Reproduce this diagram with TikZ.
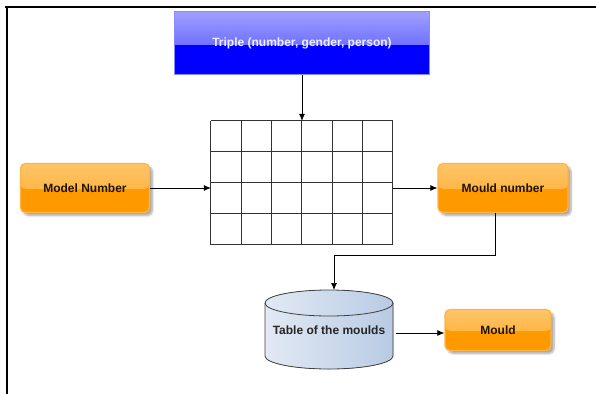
\documentclass[tikz,border=0pt]{standalone}
\usepackage{fontspec}
\setmainfont{Liberation Sans}
\usetikzlibrary{arrows.meta,shadows.blur,calc}

\definecolor{orangeA}{HTML}{FF9900}
\definecolor{orangeT}{HTML}{FFC56A}
\definecolor{orangeB}{HTML}{FFB443}
\definecolor{blueA}{HTML}{0000FF}
\definecolor{blueT}{HTML}{A0A0FF}
\definecolor{blueM}{HTML}{4646FF}
\definecolor{blueB}{HTML}{8A8AFF}
\definecolor{bluetext}{HTML}{EEEEFF}
\definecolor{cylL}{HTML}{E2E9F4}
\definecolor{cylR}{HTML}{B8CBE4}
\definecolor{txtdark}{HTML}{1E1400}

\tikzset{
  boxfont/.style={font=\fontsize{12}{14}\selectfont\bfseries},
  orangebox/.style={boxfont, text=txtdark, rounded corners=5pt, draw=orangeB,
    line width=1.3pt, fill=orangeA, align=center,
    blur shadow={shadow xshift=3pt, shadow yshift=-3pt, shadow blur steps=6, shadow opacity=35},
    path picture={\fill[top color=orangeT, bottom color=orangeA!85!white]
      (path picture bounding box.north west) rectangle
      ($(path picture bounding box.east)+(0,-1pt)$);}},
  bluebox/.style={boxfont, text=bluetext, draw=blueB, line width=1.2pt,
    fill=blueA, align=center,
    path picture={\fill[top color=blueT, bottom color=blueM]
      (path picture bounding box.north west) rectangle
      ($(path picture bounding box.east)+(0,-1pt)$);}},
  conn/.style={draw=black, line width=0.7pt, -{Latex[length=7pt,width=6pt]}},
  gridline/.style={draw=black!80, line width=0.8pt},
  cylline/.style={line width=0.8pt, draw=black!75},
}

\begin{document}
\begin{tikzpicture}[x=1pt,y=-1pt]
  \useasboundingbox (0,0) rectangle (596,394);

  % outer frame (top and left edges)
  \draw[line width=2.4pt] (5,7) -- (596,7);
  \draw[line width=2.4pt] (7,6) -- (7,394);

  % blue header box
  \node[bluebox, minimum width=255pt, minimum height=63pt] (triple) at (302,43)
    {Triple (number, gender, person)};

  % grid 6 x 4
  \node[minimum width=182pt, minimum height=124pt, inner sep=0pt] (grid) at (302,183) {};
  \foreach \i in {0,...,6} {
    \draw[gridline] ($(grid.south west)+(\i*182/6,0)$) -- ($(grid.north west)+(\i*182/6,0)$);
  }
  \foreach \j in {0,...,4} {
    \draw[gridline] ($(grid.north west)+(0,\j*124/4)$) -- ($(grid.north east)+(0,\j*124/4)$);
  }

  % side boxes
  \node[orangebox, minimum width=129pt, minimum height=49pt] (model) at (85,188) {Model Number};
  \node[orangebox, minimum width=130pt, minimum height=49pt] (mnum) at (503,188) {Mould number};
  \node[orangebox, minimum width=106pt, minimum height=41pt] (mould) at (498,330) {Mould};

  % cylinder: table of the moulds
  \fill[left color=cylL, right color=cylR]
    (265,303) -- (265,356) arc[start angle=180, end angle=0, x radius=64, y radius=13]
    -- (393,303) arc[start angle=0, end angle=-180, x radius=64, y radius=13] -- cycle;
  \draw[cylline]
    (265,303) -- (265,356) arc[start angle=180, end angle=0, x radius=64, y radius=13]
    -- (393,303);
  \draw[cylline] (329,303) ellipse[x radius=64, y radius=13];
  \node[boxfont, text=black!85] (table) at (329,330) {Table of the moulds};
  \coordinate (cyltop) at (334,290);
  \coordinate (cylright) at (396,333);

  % connectors
  \draw[conn] (triple.south) -- (triple.south |- grid.north);
  \draw[conn] (model.east) -- (model.east -| grid.west);
  \draw[conn] (mnum.west -| grid.east) -- (mnum.west);
  \draw[conn] ($(mnum.south)+(-8,0)$) -- ++(0,42) -| (cyltop);
  \draw[conn] (cylright) -- (cylright -| mould.west);
\end{tikzpicture}
\end{document}
